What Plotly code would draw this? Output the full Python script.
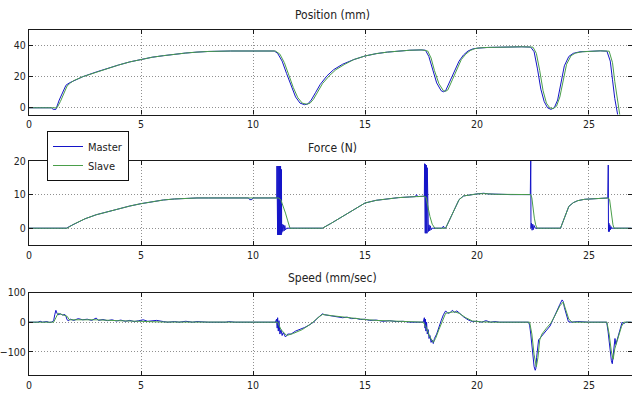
import plotly.graph_objects as go

# ---------------- DATA ----------------
pos_master_t = [0, 1.0, 1.08, 1.2, 1.35, 1.5, 1.65, 1.8, 2.0, 2.4, 3.0, 3.5, 4.0, 4.5, 5.0, 5.5, 6.0, 6.5, 7.0,
                7.5, 8.0, 9.0, 10.0, 10.95, 11.1, 11.3, 11.5, 11.7, 11.9, 12.1, 12.3, 12.45, 12.6, 12.8, 13.0, 13.3,
                13.6, 14.0, 14.5, 15.0, 15.5, 16.0, 16.5, 17.0, 17.5, 17.7, 17.85, 18.0, 18.2, 18.4, 18.5, 18.6, 18.8,
                19.0, 19.2, 19.4, 19.6, 19.8, 20.0, 20.5, 21.0, 21.5, 22.0, 22.4, 22.55, 22.7, 22.85, 23.0, 23.15,
                23.3, 23.45, 23.6, 23.75, 23.9, 24.1, 24.3, 24.6, 25.0, 25.5, 25.8, 25.95, 26.05, 26.15, 26.3, 26.45, 26.9]
pos_master_y = [0, 0, -1, -1, 5, 10, 14.5, 16, 17.5, 20, 23, 25.5, 27.5, 29.5, 31, 32.5, 33.5, 34.5, 35.2,
                35.8, 36.2, 36.5, 36.5, 36.5, 35, 30, 22, 14, 7, 3, 2, 2.5, 5, 10, 15, 20.5,
                24.5, 28, 31, 33.3, 34.8, 35.8, 36.5, 37, 37.2, 37, 33, 25, 16, 11, 10.3, 11, 17,
                24, 30, 34, 36.5, 37.8, 38.3, 38.8, 39, 39.2, 39.2, 39, 36, 25, 12, 4, 0,
                -1, 0, 5, 16, 27, 33, 35, 36, 36.4, 36.6, 36.4, 30, 18, 6, -6, -15, -20]

pos_slave_t = [0, 1.05, 1.15, 1.25, 1.4, 1.55, 1.7, 1.85, 2.0, 2.4, 3.0, 3.5, 4.0, 4.5, 5.0, 5.5, 6.0, 6.5, 7.0,
               7.5, 8.0, 9.0, 10.0, 11.0, 11.2, 11.4, 11.6, 11.8, 12.0, 12.2, 12.4, 12.55, 12.7, 12.9, 13.1, 13.4,
               13.7, 14.1, 14.5, 15.0, 15.5, 16.0, 16.5, 17.0, 17.55, 17.8, 17.95, 18.1, 18.3, 18.5, 18.6, 18.7, 18.9,
               19.1, 19.3, 19.5, 19.7, 19.9, 20.1, 20.5, 21.0, 21.5, 22.0, 22.5, 22.65, 22.8, 22.95, 23.1, 23.25,
               23.4, 23.55, 23.7, 23.85, 24.0, 24.2, 24.4, 24.7, 25.0, 25.5, 25.9, 26.05, 26.15, 26.25, 26.4, 26.55, 26.9]
pos_slave_y = [0, 0, 0, 0, 4, 9, 14, 16, 17.5, 20, 23, 25.5, 27.5, 29.5, 31, 32.5, 33.5, 34.5, 35.2,
               35.8, 36.2, 36.5, 36.5, 36.5, 34.5, 29, 21, 13, 6.5, 3, 2.3, 3, 5.5, 10.5, 15.5, 20.5,
               24.5, 28, 31, 33.3, 34.8, 35.8, 36.5, 37, 37.2, 36.5, 32, 24, 15.5, 11, 10.6, 11.5, 18,
               25, 31, 34.5, 36.8, 38, 38.5, 38.8, 39, 39.2, 39.2, 39, 35, 24, 11, 3, 0,
               -0.5, 1, 7, 18, 28, 33.5, 35.2, 36, 36.4, 36.6, 36.4, 29, 17, 5, -7, -16, -20]

force_master_t = [0, 1.68, 1.8, 2.0, 2.5, 3.0, 3.5, 4.0, 4.5, 5.0, 5.5, 6.0, 6.5, 7.0, 7.5, 8.0, 9.0, 9.8, 9.85,
                  9.95, 10.0, 10.5, 11.0, 11.06,
                  11.07, 11.08, 11.09, 11.10, 11.11, 11.12, 11.13, 11.14, 11.15, 11.16, 11.17, 11.18, 11.19, 11.20,
                  11.21, 11.22, 11.23, 11.24, 11.25, 11.26, 11.27, 11.28,
                  11.3, 11.33, 11.36, 11.39, 11.42, 11.45, 11.5, 12.0, 13.1, 13.5, 14.0, 14.5, 15.0, 15.5, 16.0,
                  16.5, 17.0, 17.25, 17.3, 17.35, 17.6, 17.65,
                  17.66, 17.67, 17.68, 17.69, 17.70, 17.71, 17.72, 17.73, 17.74, 17.75, 17.76, 17.77, 17.78,
                  17.8, 17.83, 17.86, 17.89, 17.92, 17.95, 18.0, 18.45, 18.5, 18.55, 18.6, 18.8, 19.0, 19.2, 19.4,
                  19.6, 19.8, 20.0, 20.3, 20.5, 20.8, 21.5, 22.38, 22.4, 22.41,
                  22.43, 22.46, 22.49, 22.52, 22.55, 22.6, 23.0, 23.73, 23.9, 24.1, 24.3, 24.5, 24.8, 25.2, 25.5,
                  25.84, 25.86, 25.87, 25.89, 25.91, 25.93, 25.95, 25.98, 26.0, 26.9]
force_master_y = [0, 0, 0.5, 1.2, 2.8, 4.0, 4.9, 5.8, 6.6, 7.3, 7.9, 8.4, 8.7, 8.9, 9.0, 9.0, 9.0, 9.0, 8.5,
                  8.5, 9.0, 9.0, 9.0, 9.0,
                  18.5, -2, 18.5, -2, 18.5, -2, 18.5, -2, 18.5, -2, 18.5, -2, 18.5, -2,
                  18.5, -2, 18.5, -2, 18, -2, 17.5, -1.5,
                  1.2, -1, 1, -0.8, 0.8, -0.5, 0, 0, 0, 1.5, 3.5, 5.5, 7.5, 8.3, 8.8,
                  9.1, 9.3, 9.4, 10, 9.4, 9.5, 9.5,
                  19.2, -1.5, 19, -1.5, 19, -1.5, 19, -1.5, 18.8, -1.5, 18.5, -1.5, 18,
                  1.2, -1, 1, -0.8, 0.7, -0.5, 0, 0, 0.6, 0, 0, 3, 6, 8.5, 9.6,
                  9.9, 10.0, 10.2, 10.4, 10.2, 10.1, 10.0, 10.0, 21, 0,
                  1.5, -0.6, 1.2, -0.4, 0.8, 0, 0, 0, 3, 6.5, 7.6, 8.2, 8.6, 8.8, 9.0,
                  9.0, 18.8, -1, 1.5, -1, 1, -0.5, 0.5, 0, 0]

force_slave_t = [0, 1.7, 2.0, 2.5, 3.0, 3.5, 4.0, 4.5, 5.0, 5.5, 6.0, 6.5, 7.0, 7.5, 8.0, 9.0, 10.0, 11.0, 11.15,
                 11.25, 11.35, 11.45, 11.55, 11.65, 12.0, 13.1, 13.5, 14.0, 14.5, 15.0, 15.5, 16.0, 16.5, 17.0,
                 17.6, 17.72, 17.8, 17.9, 18.0, 18.12, 18.6, 18.8, 19.0, 19.2, 19.4, 19.6, 19.8, 20.0, 20.3,
                 20.8, 21.5, 22.4, 22.45, 22.5, 22.56, 22.62, 22.68, 23.0, 23.73, 23.9, 24.1, 24.3, 24.5, 24.8,
                 25.2, 25.5, 25.86, 25.92, 25.97, 26.02, 26.07, 26.12, 26.9]
force_slave_y = [0, 0, 1.2, 2.8, 4.0, 4.9, 5.8, 6.6, 7.3, 7.9, 8.4, 8.7, 8.9, 9.0, 9.0, 9.0, 9.0, 9.0, 9.0,
                 8.3, 6.5, 4.5, 2.2, 0, 0, 0, 1.5, 3.5, 5.5, 7.5, 8.3, 8.8, 9.1, 9.3,
                 9.5, 9.3, 6.5, 3.5, 1.2, 0, 0, 3, 6, 8.5, 9.6, 9.9, 10.0, 10.2, 10.3,
                 10.1, 10.0, 10.0, 9.0, 6, 3, 1, 0, 0, 0, 3, 6.5, 7.6, 8.2, 8.6,
                 8.8, 9.0, 9.0, 8.5, 6, 3, 1, 0, 0]

speed_master_t = [0, 0.4, 0.5, 0.6, 0.8, 0.9, 1.0, 1.1, 1.15, 1.2, 1.25, 1.3, 1.4, 1.5, 1.6, 1.65, 1.7, 1.75,
                  1.85, 2.0, 2.2, 2.4, 2.6, 2.8, 3.0, 3.1, 3.3, 3.5, 3.7, 3.9, 4.1, 4.3, 4.5, 4.7, 4.9, 5.1, 5.3,
                  5.5, 5.7, 6.0, 6.2, 6.5, 6.7, 7.0, 7.3, 7.5, 8.0, 8.8, 8.9, 9.2, 10.0, 11.0, 11.05, 11.08, 11.1,
                  11.13, 11.16, 11.2, 11.25, 11.3, 11.35, 11.45, 11.55, 11.7, 11.9, 12.1, 12.3, 12.5, 12.7, 12.9,
                  13.1, 13.2, 13.4, 13.6, 13.8, 14.0, 14.2, 14.4, 14.6, 14.8, 15.0, 15.2, 15.5, 15.8, 16.1, 16.4,
                  16.7, 17.0, 17.6, 17.65, 17.68, 17.7, 17.72, 17.75, 17.78, 17.82, 17.86, 17.9, 17.95, 18.0,
                  18.05, 18.1, 18.2, 18.3, 18.4, 18.5, 18.6, 18.7, 18.8, 18.9, 19.0, 19.1, 19.2, 19.3, 19.4,
                  19.5, 19.6, 19.7, 19.8, 20.0, 20.2, 20.4, 20.6, 20.8, 21.0, 22.3, 22.35, 22.4, 22.45, 22.5,
                  22.55, 22.6, 22.63, 22.66, 22.7, 22.75, 22.8, 22.9, 23.0, 23.1, 23.26, 23.4, 23.56, 23.7,
                  23.8, 23.85, 23.9, 24.0, 24.08, 24.2, 24.5, 25.0, 25.5, 25.79, 25.85, 25.9, 25.95, 26.0,
                  26.04, 26.08, 26.12, 26.16, 26.2, 26.25, 26.3, 26.35, 26.4, 26.48, 26.55, 26.65, 26.9]
speed_master_y = [0, 0, 3, 0, 2, -1, 0, 5, 25, 40, 30, 25, 28, 24, 26, 20, 8, 5,
                  10, 6, 12, 8, 10, 6, 14, 6, 9, 5, 8, 4, 7, 3, 6, 2, 5, 8, 3,
                  4, 6, 2, 0, 2, 0, 3, 0, 2, 0, 0, 2, 0, 0, 0, 10, -20, 15,
                  -30, 5, -40, -25, -45, -35, -50, -40, -40, -30, -25, -18, -10, 0, 15,
                  28, 25, 22, 20, 18, 15, 17, 12, 13, 9, 10, 6, 7, 3, 5, 2,
                  3, 0, 0, 15, -20, 10, -30, 0, -40, -25, -55, -45, -68, -60,
                  -72, -55, -40, -15, 5, 25, 38, 30, 32, 40, 33, 38, 30, 25, 18,
                  12, 8, 5, 2, 3, 0, 5, 0, 2, 0, 0, -10, -40, -80, -120,
                  -150, -162, -155, -120, -80, -60, -55, -45, -35, -25, -13, 10, 39, 60,
                  75, 70, 50, 20, 2, 0, 2, 0, 0, 0, -30, -70, -110, -130,
                  -140, -110, -70, -55, -75, -60, -50, -35, -15, 0, -5, 0, 0]

speed_slave_t = [0, 1.1, 1.2, 1.3, 1.5, 1.7, 1.8, 2.0, 2.5, 3.0, 4.0, 5.0, 6.0, 11.1, 11.25, 11.5, 11.8, 12.2,
                 12.6, 12.9, 13.1, 13.5, 14.0, 14.5, 15.0, 15.5, 16.0, 16.5, 17.0, 17.6, 17.75, 17.9, 18.05,
                 18.15, 18.3, 18.45, 18.6, 18.8, 19.0, 19.2, 19.5, 19.8, 20.2, 20.8, 22.35, 22.45, 22.55, 22.65,
                 22.72, 22.8, 22.9, 23.1, 23.3, 23.5, 23.7, 23.85, 23.95, 24.1, 24.25, 25.8, 25.9, 26.0, 26.08,
                 26.15, 26.25, 26.35, 26.45, 26.55, 26.9]
speed_slave_y = [0, 0, 15, 30, 25, 20, 8, 8, 8, 8, 5, 3, 0.5, 0, -25, -45, -38, -25,
                 -5, 15, 26, 22, 17, 13, 9, 6, 4, 2, 0.5, 0, -20, -50, -68,
                 -55, -25, 5, 30, 33, 35, 30, 15, 4, 1, 0, 0, -40, -110, -150,
                 -120, -60, -40, -20, -3, 25, 55, 68, 45, 10, 0, 0, -40, -100, -125,
                 -90, -65, -40, -15, 0, 0]

x_ticks = [0, 5, 10, 15, 20, 25]
pos_ticks = [0, 20, 40]
force_ticks = [0, 10, 20]
speed_ticks = [-100, 0, 100]
titles = ["Position (mm)", "Force (N)", "Speed (mm/sec)"]
legend_names = ["Master", "Slave"]

# ---------------- STYLE ----------------
MASTER = "#1414c8"
SLAVE = "#4a9e4a"
FONT = "Liberation Sans Narrow, Arial Narrow, DejaVu Sans Condensed, Liberation Sans, Arial, sans-serif"
W, H = 632, 396
ML, MR, MT, MB = 29, 0, 30, 21
PW = W - ML - MR
PH = H - MT - MB

fig = go.Figure()

panels = [
    (pos_master_t, pos_master_y, pos_slave_t, pos_slave_y, "x", "y"),
    (force_master_t, force_master_y, force_slave_t, force_slave_y, "x2", "y2"),
    (speed_master_t, speed_master_y, speed_slave_t, speed_slave_y, "x3", "y3"),
]
for i, (mt, my, st, sy, xa, ya) in enumerate(panels):
    fig.add_trace(go.Scatter(x=mt, y=my, mode="lines", line=dict(color=MASTER, width=1),
                             name=legend_names[0], legendgroup="m", showlegend=(i == 1),
                             xaxis=xa, yaxis=ya))
    fig.add_trace(go.Scatter(x=st, y=sy, mode="lines", line=dict(color=SLAVE, width=1),
                             name=legend_names[1], legendgroup="s", showlegend=(i == 1),
                             xaxis=xa, yaxis=ya))

def px_dom(top, bottom):
    lo = (H - MB - bottom) / PH
    hi = (H - MB - top) / PH
    return [max(0.0, lo), min(1.0, hi)]

y_doms = [px_dom(30, 114.5), px_dom(161, 245), px_dom(292.5, 375)]
y_ranges = [[-4.3, 50], [-5, 20], [-178, 100]]
y_tickvals = [pos_ticks, force_ticks, speed_ticks]

axis_common = dict(showline=True, linecolor="#1a1a1a", linewidth=1.4, mirror="ticks",
                   ticks="inside", ticklen=4, tickcolor="#1a1a1a", automargin=False,
                   showgrid=True, gridcolor="#909090", griddash="1px,2px", gridwidth=1,
                   zeroline=False, tickfont=dict(family=FONT, size=10.5, color="#222"))

layout = dict(width=W, height=H, margin=dict(l=ML, r=MR, t=MT, b=MB), autosize=False,
              paper_bgcolor="white", plot_bgcolor="white", showlegend=True,
              legend=dict(x=(47 - ML) / PW, y=(H - MB - 131) / PH,
                          xanchor="left", yanchor="top",
                          bgcolor="white", bordercolor="#111", borderwidth=1,
                          font=dict(family=FONT, size=11, color="#222"),
                          tracegroupgap=0, itemwidth=30))
for i in range(3):
    sx = "" if i == 0 else str(i + 1)
    layout["xaxis" + sx] = dict(domain=[0, 1], range=[0, 26.92], tickvals=x_ticks,
                                anchor="y" + sx, **axis_common)
    layout["yaxis" + sx] = dict(domain=y_doms[i], range=y_ranges[i], tickvals=y_tickvals[i],
                                anchor="x" + sx, **axis_common)
fig.update_layout(**layout)

title_y = [15, 148, 278]
for i, t in enumerate(titles):
    fig.add_annotation(text=t, x=(332 - ML) / PW, y=(H - MB - title_y[i]) / PH,
                       xref="paper", yref="paper",
                       showarrow=False, xanchor="center", yanchor="middle",
                       font=dict(family=FONT, size=12, color="#222"))

fig.write_html("out.html", config={"displayModeBar": False},
               post_script="document.body.style.margin='0';document.body.style.overflow='hidden';"
                           "document.documentElement.style.overflow='hidden';")
